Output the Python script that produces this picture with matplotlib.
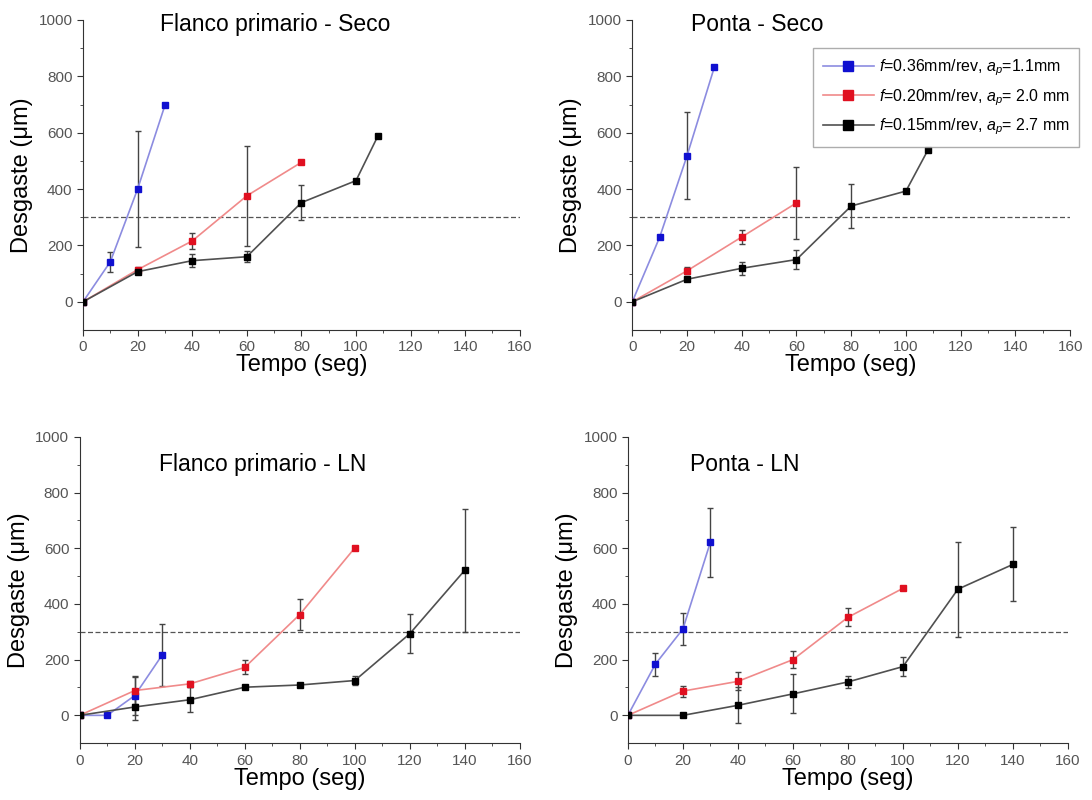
import numpy as np
import matplotlib.pyplot as plt

plt.rcParams['font.family'] = ['Liberation Sans', 'DejaVu Sans']
plt.rcParams['mathtext.fontset'] = 'custom'
plt.rcParams['mathtext.it'] = 'Liberation Sans:italic'
plt.rcParams['mathtext.rm'] = 'Liberation Sans'

# series labels and colours (marker, line)
labels = [r'$f$=0.36mm/rev, $a_p$=1.1mm',
          r'$f$=0.20mm/rev, $a_p$= 2.0 mm',
          r'$f$=0.15mm/rev, $a_p$= 2.7 mm']
mcolors = ['#1010d0', '#e01020', '#000000']
lcolors = ['#8c8ce0', '#f08a8a', '#505050']

titles = ['Flanco primario - Seco', 'Ponta - Seco', 'Flanco primario - LN', 'Ponta - LN']

# Flanco primario - Seco
fs_x = [[0, 10, 20, 30], [0, 20, 40, 60, 80], [0, 20, 40, 60, 80, 100, 108]]
fs_y = [[0, 142, 400, 697], [0, 114, 216, 376, 495], [0, 107, 146, 160, 352, 430, 588]]
fs_e = [[0, 35, 207, 0], [0, 10, 27, 177, 0], [0, 10, 22, 20, 63, 0, 0]]

# Ponta - Seco
ps_x = [[0, 10, 20, 30], [0, 20, 40, 60], [0, 20, 40, 60, 80, 100, 108]]
ps_y = [[0, 229, 518, 833], [0, 110, 230, 351], [0, 80, 119, 150, 340, 393, 538]]
ps_e = [[0, 0, 154, 0], [0, 12, 25, 128], [0, 0, 23, 35, 78, 0, 0]]

# Flanco primario - LN
fl_x = [[0, 10, 20, 30], [0, 20, 40, 60, 80, 100], [0, 20, 40, 60, 80, 100, 120, 140]]
fl_y = [[0, 0, 71, 217], [0, 89, 113, 172, 362, 601], [0, 30, 56, 101, 109, 125, 293, 521]]
fl_e = [[0, 0, 70, 111], [0, 50, 10, 25, 54, 0], [0, 45, 45, 0, 0, 15, 70, 220]]

# Ponta - LN
pl_x = [[0, 10, 20, 30], [0, 20, 40, 60, 80, 100], [0, 20, 40, 60, 80, 100, 120, 140]]
pl_y = [[0, 184, 310, 622], [0, 87, 122, 200, 352, 456], [0, 0, 36, 77, 120, 175, 453, 542]]
pl_e = [[0, 41, 57, 124], [0, 20, 32, 30, 33, 0], [0, 0, 65, 70, 22, 34, 170, 133]]

panels = [(fs_x, fs_y, fs_e), (ps_x, ps_y, ps_e), (fl_x, fl_y, fl_e), (pl_x, pl_y, pl_e)]

# axes rectangles in figure fractions
rects = [[0.076, 0.5875, 0.400, 0.3875],
         [0.579, 0.5875, 0.401, 0.3875],
         [0.073, 0.071, 0.403, 0.383],
         [0.575, 0.071, 0.403, 0.383]]
title_pos = [(0.44, 0.985), (0.135, 0.985), (0.18, 0.91), (0.14, 0.91)]

fig = plt.figure(figsize=(10.92, 8), dpi=100)
handles = []
for k, (xs, ys, es) in enumerate(panels):
    ax = fig.add_axes(rects[k])
    ax.axhline(300, color='#555555', lw=0.9, ls=(0, (4, 2)), zorder=1)
    for i in range(3):
        x = np.array(xs[i])
        y = np.array(ys[i])
        e = np.array(es[i])
        h, = ax.plot(x, y, color=lcolors[i], lw=1.2, marker='s', ms=4.5,
                     mfc=mcolors[i], mec=mcolors[i], zorder=3, label=labels[i])
        if k == 0:
            handles.append(h)
        m = e > 0
        ax.errorbar(x[m], y[m], yerr=e[m], fmt='none', ecolor='#444444',
                    elinewidth=1.0, capsize=2.5, capthick=1.0, zorder=2)
    ax.set_xlim(0, 160)
    ax.set_ylim(-100, 1000)
    ax.set_xticks(np.arange(0, 161, 20))
    ax.set_xticks(np.arange(0, 161, 10), minor=True)
    ax.set_yticks(np.arange(0, 1001, 200))
    ax.set_yticks(np.arange(0, 1001, 100), minor=True)
    for s in ['top', 'right']:
        ax.spines[s].set_visible(False)
    for s in ['left', 'bottom']:
        ax.spines[s].set_color('#333333')
    ax.tick_params(which='major', length=4, labelsize=11, colors='#333333', labelcolor='#555555')
    ax.tick_params(which='minor', length=2, colors='#333333')
    ax.set_xlabel('Tempo (seg)', fontsize=17, labelpad=0)
    ax.set_ylabel('Desgaste (\u03bcm)', fontsize=17, labelpad=4)
    ax.text(title_pos[k][0], title_pos[k][1], titles[k], transform=ax.transAxes,
            fontsize=16.5, ha='left' if k else 'center', va='center')

fig.legend(handles=handles, loc='upper right', bbox_to_anchor=(1087 / 1092, 1 - 40 / 800),
           fontsize=11.5, frameon=True, fancybox=False, edgecolor='#999999',
           handlelength=3.2, borderpad=0.6, labelspacing=0.55, handletextpad=0.3,
           markerscale=1.6)

fig.savefig('out.png', dpi=100)
